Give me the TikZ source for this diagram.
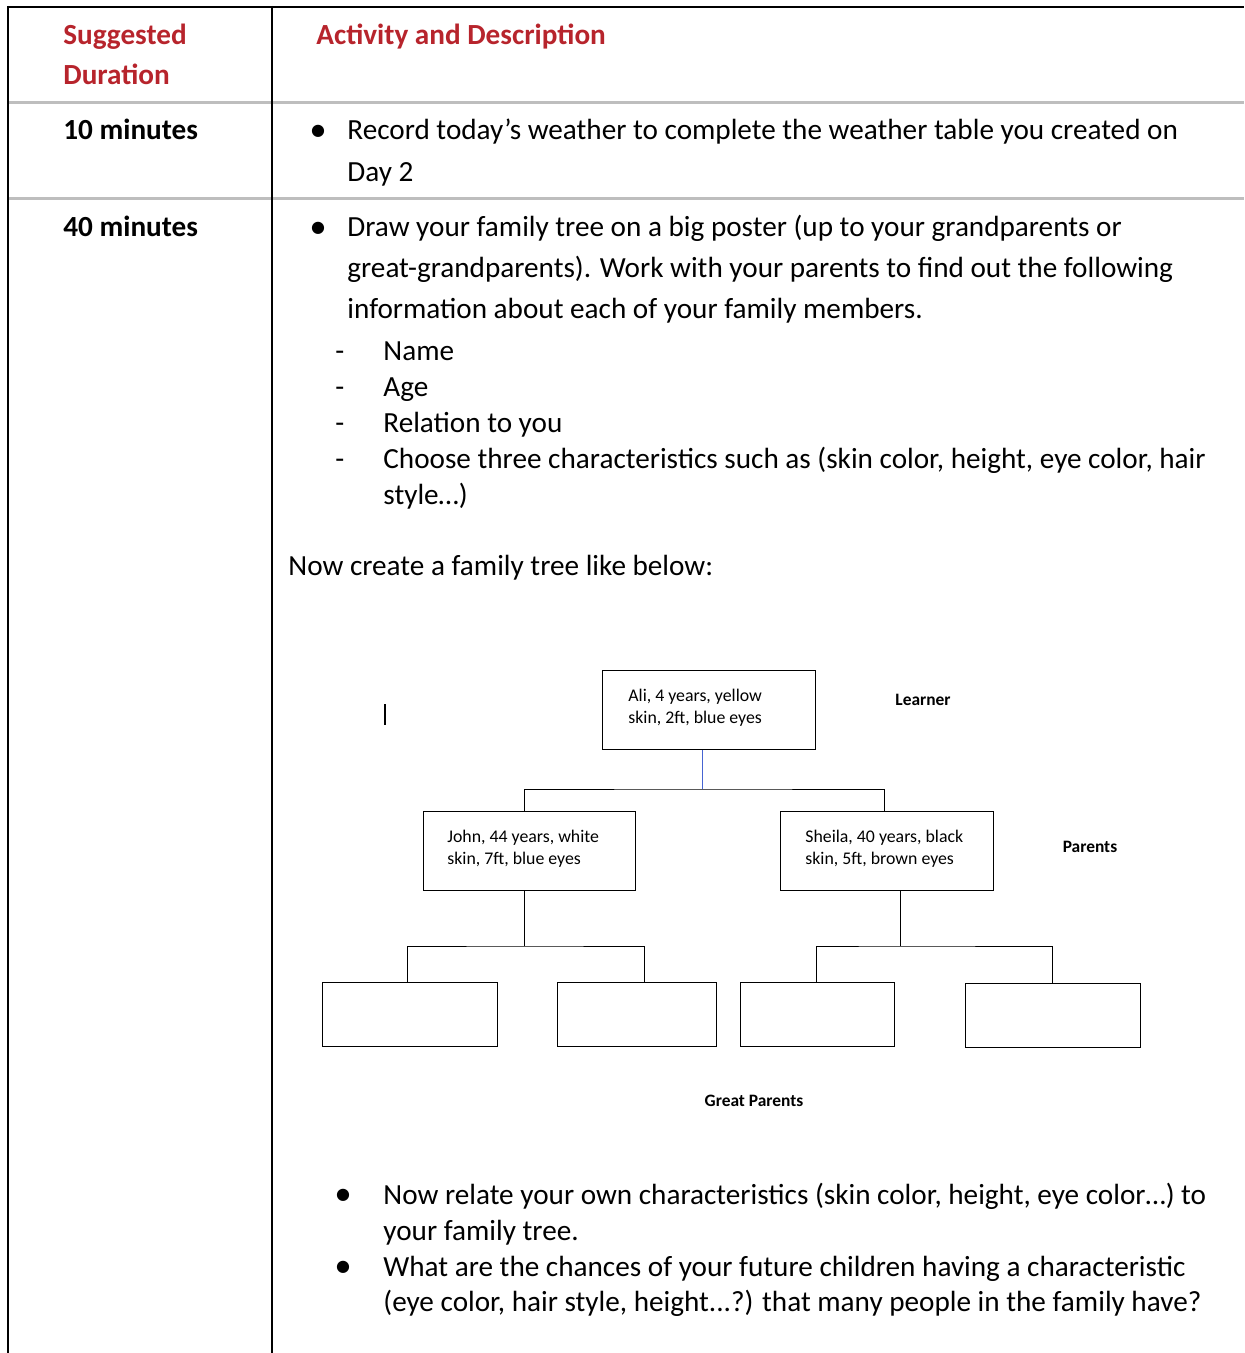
\documentclass[tikz,border=0pt]{standalone}
\usepackage{fontspec}
\setmainfont{Carlito}
\newfontfamily\symfont{DejaVu Sans}
\definecolor{hdred}{RGB}{183,36,44}
\definecolor{rulegray}{RGB}{190,190,190}
\definecolor{linkblue}{RGB}{70,100,210}
\tikzset{
  x=0.5pt, y=-0.5pt,
  txt/.style={anchor=base west, inner sep=0pt, font=\fontsize{14.6}{17}\selectfont},
  hdr/.style={txt, font=\fontsize{14.6}{17}\selectfont\bfseries, text=hdred},
  dur/.style={txt, font=\fontsize{14.6}{17}\selectfont\bfseries},
  bul/.style={anchor=center, inner sep=0pt, font=\symfont\fontsize{8}{9}\selectfont},
  personbox/.style={draw, line width=0.55pt, inner sep=0pt, anchor=north west},
  small/.style={anchor=base west, inner sep=0pt, font=\fontsize{8.9}{10}\selectfont, align=left},
  lbl/.style={anchor=center, inner sep=0pt, font=\fontsize{8.7}{10}\selectfont\bfseries},
  tline/.style={line width=0.5pt},
}
\begin{document}
\begin{tikzpicture}
\useasboundingbox (0,0) rectangle (1244,1353);
% table rules
\draw[line width=1.2pt] (7,7) -- (1244,7);
\draw[rulegray, line width=1.5pt] (8,103) -- (1244,103);
\draw[rulegray, line width=1.5pt] (8,199) -- (1244,199);
\draw[line width=1pt] (8,6) -- (8,1353);
\draw[line width=1pt] (272,6) -- (272,1353);

% header
\node[hdr] (h1) at (63,45) {Suggested};
\node[hdr] (h2) at (63,85) {Duration};
\node[hdr] (h3) at (316,45) {Activity and Description};

% row 1
\node[dur] (d1) at (63,140) {10 minutes};
\node[bul] (b1) at (318,131) {●};
\node[txt] (r1a) at (347,140) {Record today’s weather to complete the weather table you created on};
\node[txt] (r1b) at (347,182) {Day 2};

% row 2
\node[dur] (d2) at (63,237) {40 minutes};
\node[bul] (b2) at (318,228) {●};
\node[txt] (r2a) at (347,237) {Draw your family tree on a big poster (up to your grandparents or};
\node[txt] (r2b) at (347,278) {great-grandparents). Work with your parents to find out the following};
\node[txt] (r2c) at (347,319) {information about each of your family members.};
\node[txt] (m1) at (335,360) {-};
\node[txt] (n1) at (383,360) {Name};
\node[txt] (m2) at (335,396) {-};
\node[txt] (n2) at (383,396) {Age};
\node[txt] (m3) at (335,432) {-};
\node[txt] (n3) at (383,432) {Relation to you};
\node[txt] (m4) at (335,468) {-};
\node[txt] (n4) at (383,468) {Choose three characteristics such as (skin color, height, eye color, hair};
\node[txt] (n5) at (383,504) {style…)};
\node[txt] (now) at (288,575) {Now create a family tree like below:};

% tree
\node[personbox, minimum width=106.5pt, minimum height=39.5pt] (ali) at (602,670) {};
\node[small] at (628,701) {Ali, 4 years, yellow};
\node[small] at (628,723) {skin, 2ft, blue eyes};
\node[lbl] (learner) at (923,700) {Learner};

\node[personbox, minimum width=106pt, minimum height=39.5pt] (john) at (423,811) {};
\node[small] at (447,842) {John, 44 years, white};
\node[small] at (447,864) {skin, 7ft, blue eyes};

\node[personbox, minimum width=106.5pt, minimum height=39.5pt] (sheila) at (780,811) {};
\node[small] at (805,842) {Sheila, 40 years, black};
\node[small] at (805,864) {skin, 5ft, brown eyes};
\node[lbl] (parents) at (1090,847) {Parents};

\node[personbox, minimum width=87.5pt, minimum height=32pt] (g1) at (322,982) {};
\node[personbox, minimum width=79.5pt, minimum height=32pt] (g2) at (557,982) {};
\node[personbox, minimum width=77pt, minimum height=32pt] (g3) at (740,982) {};
\node[personbox, minimum width=87.5pt, minimum height=32pt] (g4) at (965,983) {};
\node[lbl] (great) at (754,1101) {Great Parents};

\coordinate (aliB) at (702,749);
\coordinate (j1) at (702,789);
\draw[linkblue, tline] (ali.south -| aliB) -- (j1);
\draw[tline] (john.north -| 524,0) |- (j1) -| (sheila.north -| 884,0);

\coordinate (jb) at (524,946);
\draw[tline] (john.south -| jb) -- (jb);
\draw[tline] (g1.north -| 407,0) |- (jb) -| (g2.north -| 644,0);

\coordinate (sb) at (900,946);
\draw[tline] (sheila.south -| sb) -- (sb);
\draw[tline] (g3.north -| 816,0) |- (sb) -| (g4.north -| 1052,0);

% text cursor
\draw[line width=0.7pt] (385,704) -- (385,725);

% closing bullets
\node[bul] (b3) at (343,1195) {●};
\node[txt] (q1a) at (383,1204) {Now relate your own characteristics (skin color, height, eye color…) to};
\node[txt] (q1b) at (383,1240) {your family tree.};
\node[bul] (b4) at (343,1267) {●};
\node[txt] (q2a) at (383,1276) {What are the chances of your future children having a characteristic};
\node[txt] (q2b) at (383,1311) {(eye color, hair style, height...?) that many people in the family have?};
\end{tikzpicture}
\end{document}
